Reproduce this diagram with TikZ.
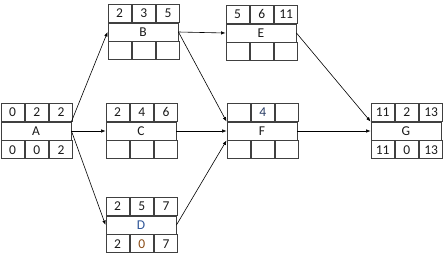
\documentclass[tikz,border=0pt]{standalone}
\usepackage{fontspec}
\setmainfont{Carlito}
\usepackage{xcolor}
\usetikzlibrary{arrows.meta,positioning}
\definecolor{frame}{HTML}{404040}
\definecolor{ink}{HTML}{1A1A1A}
\definecolor{steel}{HTML}{2F5597}
\definecolor{deep}{HTML}{283C64}
\definecolor{rust}{HTML}{8A4B14}
\tikzset{
  actbox/.style={rectangle, draw=frame, line width=0.9pt, minimum width=70pt, minimum height=18pt,
                 inner sep=0pt, text=ink, font=\fontsize{13.5}{15}\selectfont},
  cell/.style={actbox, minimum width=70pt/3},
  link/.style={-{Latex[length=4.5pt,width=3.5pt]}, draw=black, line width=0.6pt},
}
\newcommand{\activity}[9]{%
  \node[actbox] (#1) at (#2) {#3};
  \node[cell, anchor=south west] (#1t1) at (#1.north west) {#4};
  \node[cell, right=0pt of #1t1] (#1t2) {#5};
  \node[cell, right=0pt of #1t2] (#1t3) {#6};
  \node[cell, anchor=north west] (#1b1) at (#1.south west) {#7};
  \node[cell, right=0pt of #1b1] (#1b2) {#8};
  \node[cell, right=0pt of #1b2] (#1b3) {#9};
}
\begin{document}
\begin{tikzpicture}[x=1pt, y=-1pt]
\useasboundingbox (0,0) rectangle (445,260);
\activity{A}{36,131}{A}{0}{2}{2}{0}{0}{2}
\activity{B}{143,32}{B}{2}{3}{5}{}{}{}
\activity{C}{141,131}{C}{2}{4}{6}{}{}{}
\activity{D}{141,225}{\color{steel}D}{2}{5}{7}{2}{\color{rust}0}{7}
\activity{E}{261,33}{E}{5}{6}{11}{}{}{}
\activity{F}{262,131}{F}{}{\color{deep}4}{}{}{}{}
\activity{G}{406,131}{G}{11}{2}{13}{11}{0}{13}
\draw[link] (A.north east) -- (B.west);
\draw[link] (A.east) -- (C.west);
\draw[link] (A.east) -- (D.west);
\draw[link] (B.east) -- (E.west);
\draw[link] (B.east) -- (F.north west);
\draw[link] (C.east) -- (F.west);
\draw[link] (D.east) -- (F.south west);
\draw[link] (E.east) -- (G.north west);
\draw[link] (F.east) -- (G.west);
\end{tikzpicture}
\end{document}
